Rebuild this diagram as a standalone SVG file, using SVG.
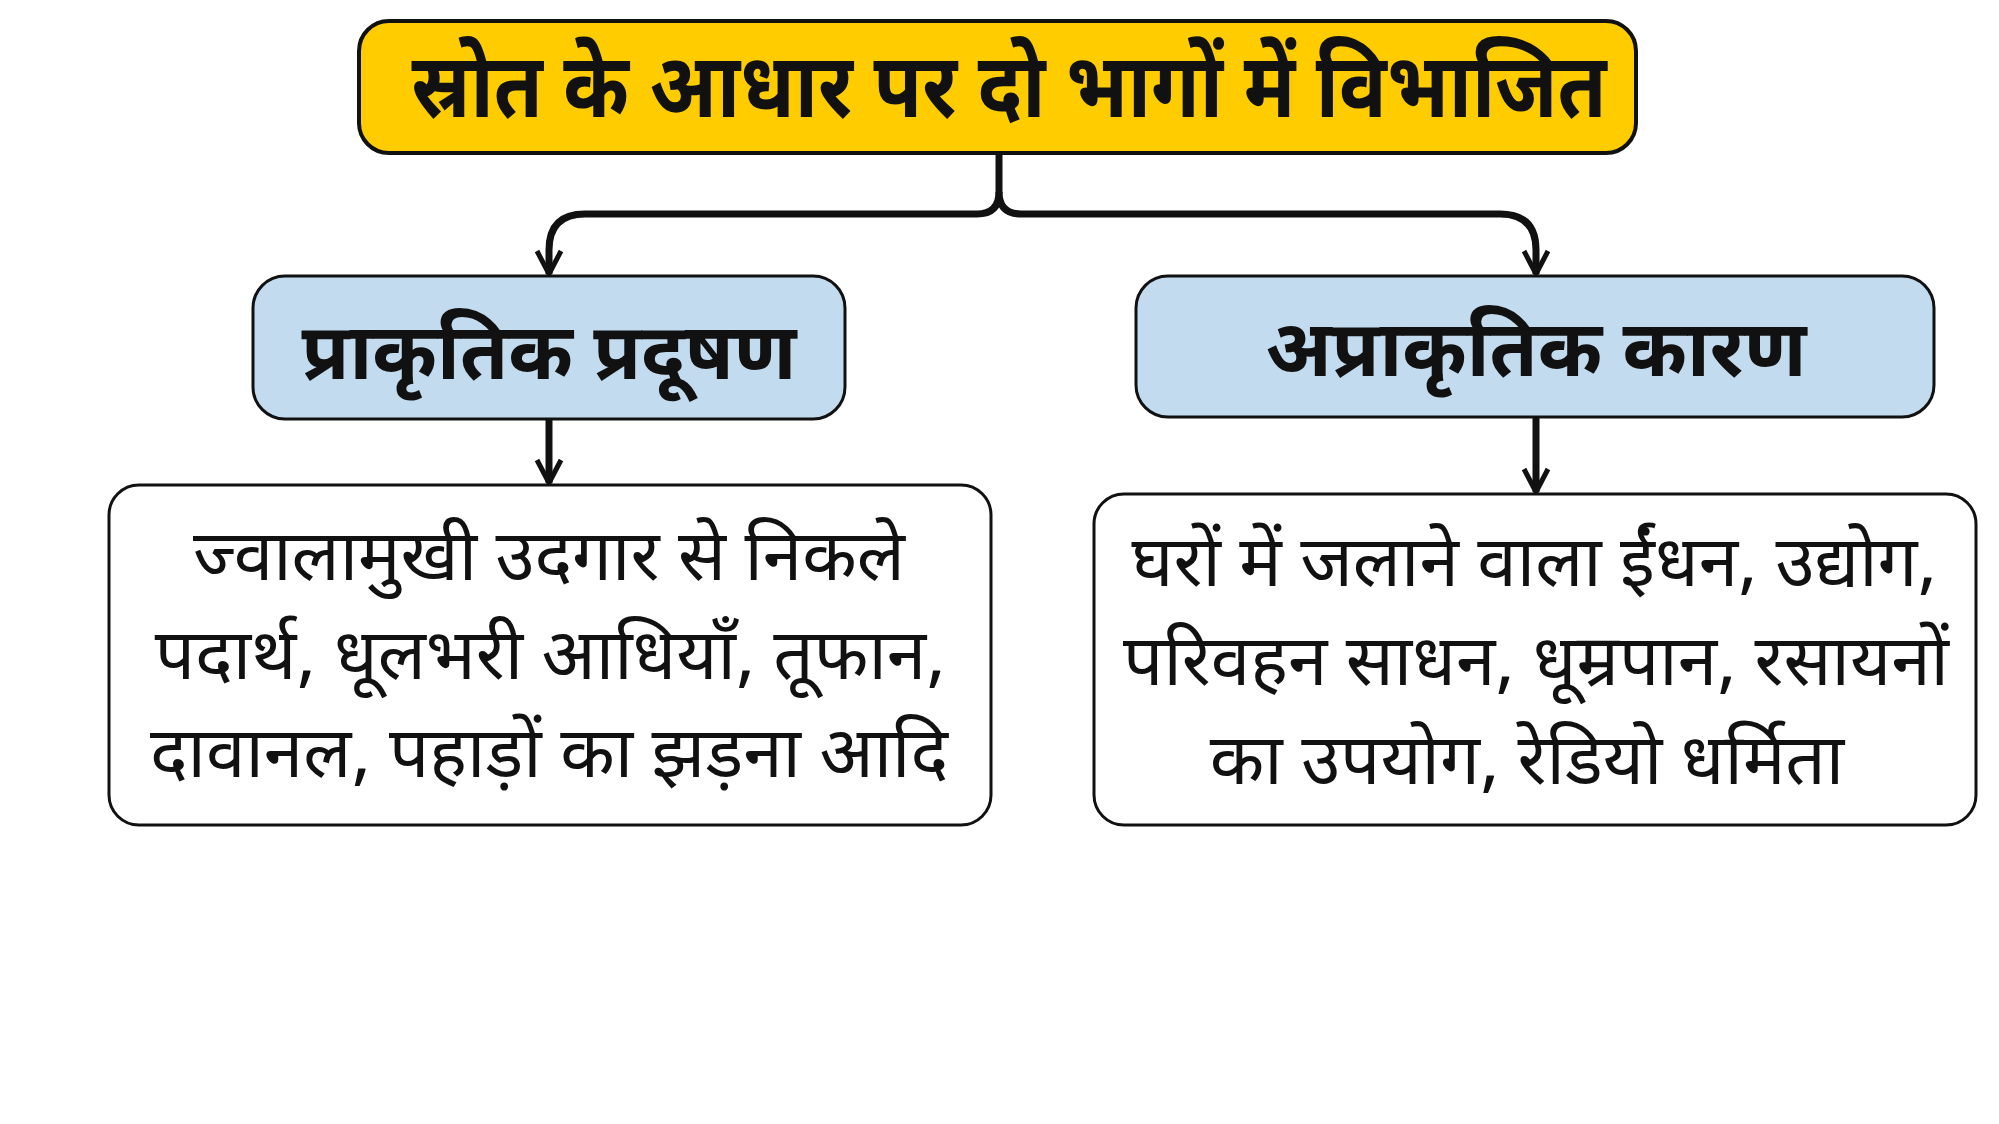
<svg xmlns="http://www.w3.org/2000/svg" width="1999" height="1124" viewBox="0 0 1999 1124">
<defs>
<style>
.t{font-family:"Noto Sans Devanagari","Lohit Devanagari","Noto Sans",sans-serif;fill:#111;text-anchor:middle}
.b{font-weight:700}
.title{fill:#FFCC00;stroke:#111;stroke-width:4}
.blue{fill:#C2DBEF;stroke:#111;stroke-width:3}
.white{fill:#fff;stroke:#111;stroke-width:3}
.c{fill:none;stroke:#111;stroke-width:7}
</style>
<marker id="ah" viewBox="0 0 30 30" refX="26" refY="15" markerWidth="30" markerHeight="30" markerUnits="userSpaceOnUse" orient="auto">
<path d="M3,3 L26,15 L3,27" fill="none" stroke="#111" stroke-width="5" stroke-linejoin="miter"/>
</marker>
</defs>
<rect width="1999" height="1124" fill="#fff"/>
<g id="connectors">
<path class="c" d="M999,153 V192 Q999,214 977,214 H585 Q549,214 549,250 V274" marker-end="url(#ah)"/>
<path class="c" d="M999,192 Q999,214 1021,214 H1500 Q1536,214 1536,250 V274" marker-end="url(#ah)"/>
<path class="c" d="M549,420 V483" marker-end="url(#ah)"/>
<path class="c" d="M1536,418 V492" marker-end="url(#ah)"/>
</g>
<g id="n-title">
<rect class="title" x="359" y="21" width="1277" height="132" rx="30"/>
<text class="t b" x="1009" y="117" font-size="90" textLength="1195" lengthAdjust="spacingAndGlyphs">स्रोत के आधार पर दो भागों में विभाजित</text>
</g>
<g id="n-natural">
<rect class="blue" x="253" y="276" width="592" height="143" rx="32"/>
<text class="t b" x="549" y="379" font-size="78" textLength="495" lengthAdjust="spacingAndGlyphs">प्राकृतिक प्रदूषण</text>
</g>
<g id="n-unnatural">
<rect class="blue" x="1136" y="276" width="798" height="141" rx="32"/>
<text class="t b" x="1536" y="376" font-size="78" textLength="541" lengthAdjust="spacingAndGlyphs">अप्राकृतिक कारण</text>
</g>
<g id="n-natural-list">
<rect class="white" x="109" y="485" width="882" height="340" rx="30"/>
<text class="t" x="549" y="580" font-size="71">ज्वालामुखी उदगार से निकले</text>
<text class="t" x="550" y="679" font-size="71">पदार्थ, धूलभरी आधियाँ, तूफान,</text>
<text class="t" x="549" y="777" font-size="71">दावानल, पहाड़ों का झड़ना आदि</text>
</g>
<g id="n-unnatural-list">
<rect class="white" x="1094" y="494" width="882" height="331" rx="30"/>
<text class="t" x="1534" y="586" font-size="71">घरों में जलाने वाला ईंधन, उद्योग,</text>
<text class="t" x="1536" y="685" font-size="71">परिवहन साधन, धूम्रपान, रसायनों</text>
<text class="t" x="1527" y="784" font-size="71">का उपयोग, रेडियो धर्मिता</text>
</g>
</svg>
